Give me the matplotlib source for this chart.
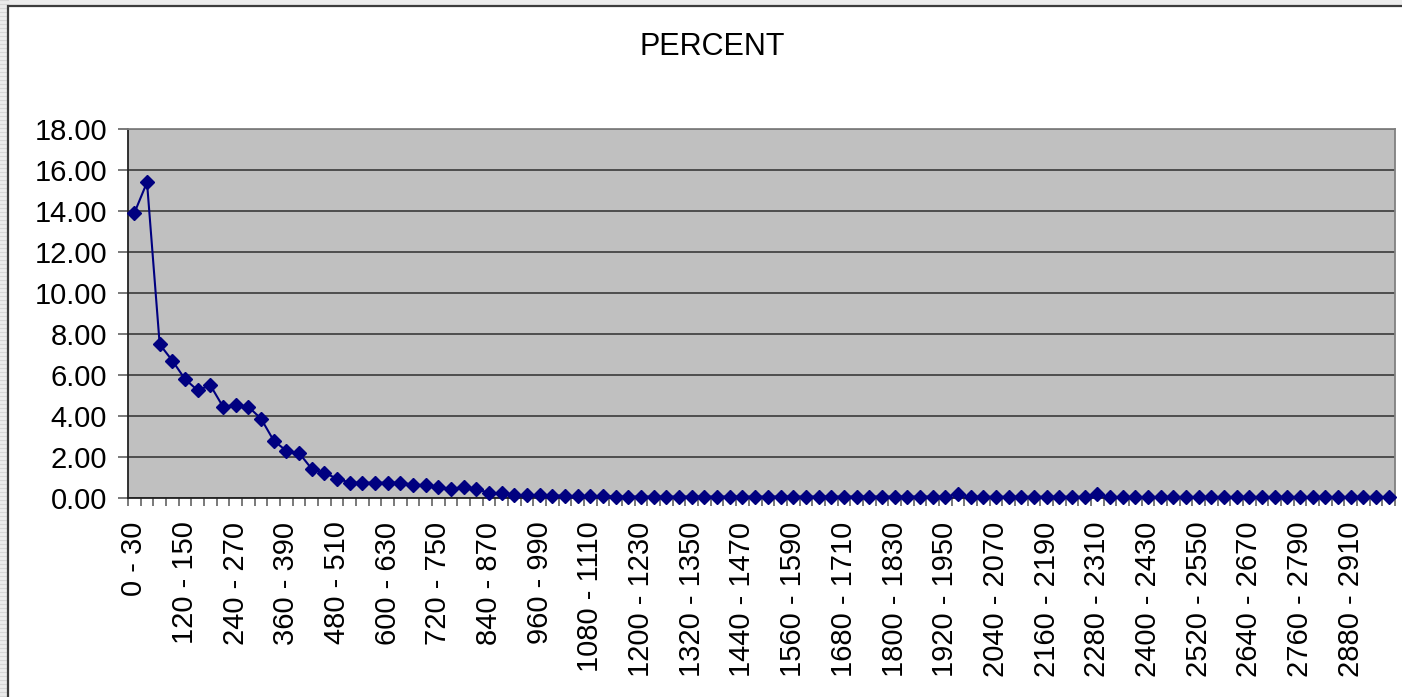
import numpy as np
import matplotlib
matplotlib.use("Agg")
import matplotlib.pyplot as plt
import matplotlib.patches as patches

# 30-second bins, 0 - 3000
bin_starts = list(range(0, 3000, 30))
categories = [f"{s} - {s + 30}" for s in bin_starts]

percent = [
    13.90, 15.40, 7.50, 6.70, 5.80, 5.25, 5.50, 4.45, 4.55, 4.45,
    3.87, 2.80, 2.30, 2.20, 1.42, 1.22, 0.95, 0.75, 0.75, 0.75,
    0.75, 0.75, 0.65, 0.63, 0.53, 0.45, 0.53, 0.43, 0.25, 0.22,
    0.15, 0.13, 0.13, 0.12, 0.12, 0.08, 0.08, 0.10, 0.07, 0.07,
    0.07, 0.07, 0.07, 0.07, 0.07, 0.07, 0.07, 0.07, 0.07, 0.07,
    0.07, 0.07, 0.07, 0.07, 0.07, 0.07, 0.07, 0.07, 0.07, 0.07,
    0.07, 0.07, 0.07, 0.07, 0.07, 0.18, 0.06, 0.06, 0.06, 0.06,
    0.06, 0.06, 0.06, 0.06, 0.06, 0.06, 0.18, 0.05, 0.05, 0.05,
    0.05, 0.05, 0.05, 0.05, 0.05, 0.05, 0.05, 0.05, 0.05, 0.05,
    0.05, 0.05, 0.05, 0.05, 0.05, 0.05, 0.05, 0.05, 0.05, 0.05,
]

yticks = [0, 2, 4, 6, 8, 10, 12, 14, 16, 18]

plt.rcParams['font.family'] = ['Liberation Sans', 'DejaVu Sans']

W, H = 1402, 697
fig = plt.figure(figsize=(W / 100, H / 100), dpi=100)

# spreadsheet background + chart border
fig.patches.append(patches.Rectangle((0, 0), 1, 1, transform=fig.transFigure,
                                     facecolor='#ececec', edgecolor='none', zorder=-3))
for yy in range(0, H, 4):
    fig.lines.append(plt.Line2D([0, 8 / W], [1 - yy / H, 1 - yy / H], transform=fig.transFigure,
                                color='#d6d6d6', lw=0.8, zorder=-2))
fig.patches.append(patches.Rectangle((8 / W, -0.05), 1.05, 1 - 6 / H + 0.05,
                                     transform=fig.transFigure, facecolor='white',
                                     edgecolor='#3c3c3c', lw=1.6, zorder=-1))

ax = fig.add_axes([128 / W, 1 - 498 / H, 1267 / W, 369 / H])
ax.set_facecolor('#c0c0c0')

x = np.arange(len(percent))
ax.plot(x, percent, color='#000080', lw=1.5, marker='D', ms=7.5,
        markeredgecolor='#000080', markerfacecolor='#000080', clip_on=False, zorder=3)

ax.set_xlim(-0.5, len(percent) - 0.5)
ax.set_ylim(0, 18)
ax.set_yticks(yticks)
ax.set_yticklabels([f"{v:.2f}" for v in yticks], fontsize=21)
ax.grid(axis='y', color='#444444', lw=1.3)
ax.set_axisbelow(True)

ax.set_xticks(x[::4])
ax.set_xticklabels(categories[::4], rotation=90, fontsize=21)
ax.set_xticks(np.arange(len(percent) + 1) - 0.5, minor=True)
ax.tick_params(axis='x', which='major', length=0, pad=17)
ax.tick_params(axis='x', which='minor', length=6, width=1.1, color='#555555', direction='out')
ax.tick_params(axis='y', length=7, width=1.1, color='#555555', pad=8)

for side in ['left', 'bottom']:
    ax.spines[side].set_color('#222222')
    ax.spines[side].set_linewidth(1.3)
for side in ['top', 'right']:
    ax.spines[side].set_color('#808080')
    ax.spines[side].set_linewidth(1.3)

fig.text(712 / W, 1 - 47 / H, "PERCENT", ha='center', va='center', fontsize=22)

fig.savefig("out.png", dpi=100)
